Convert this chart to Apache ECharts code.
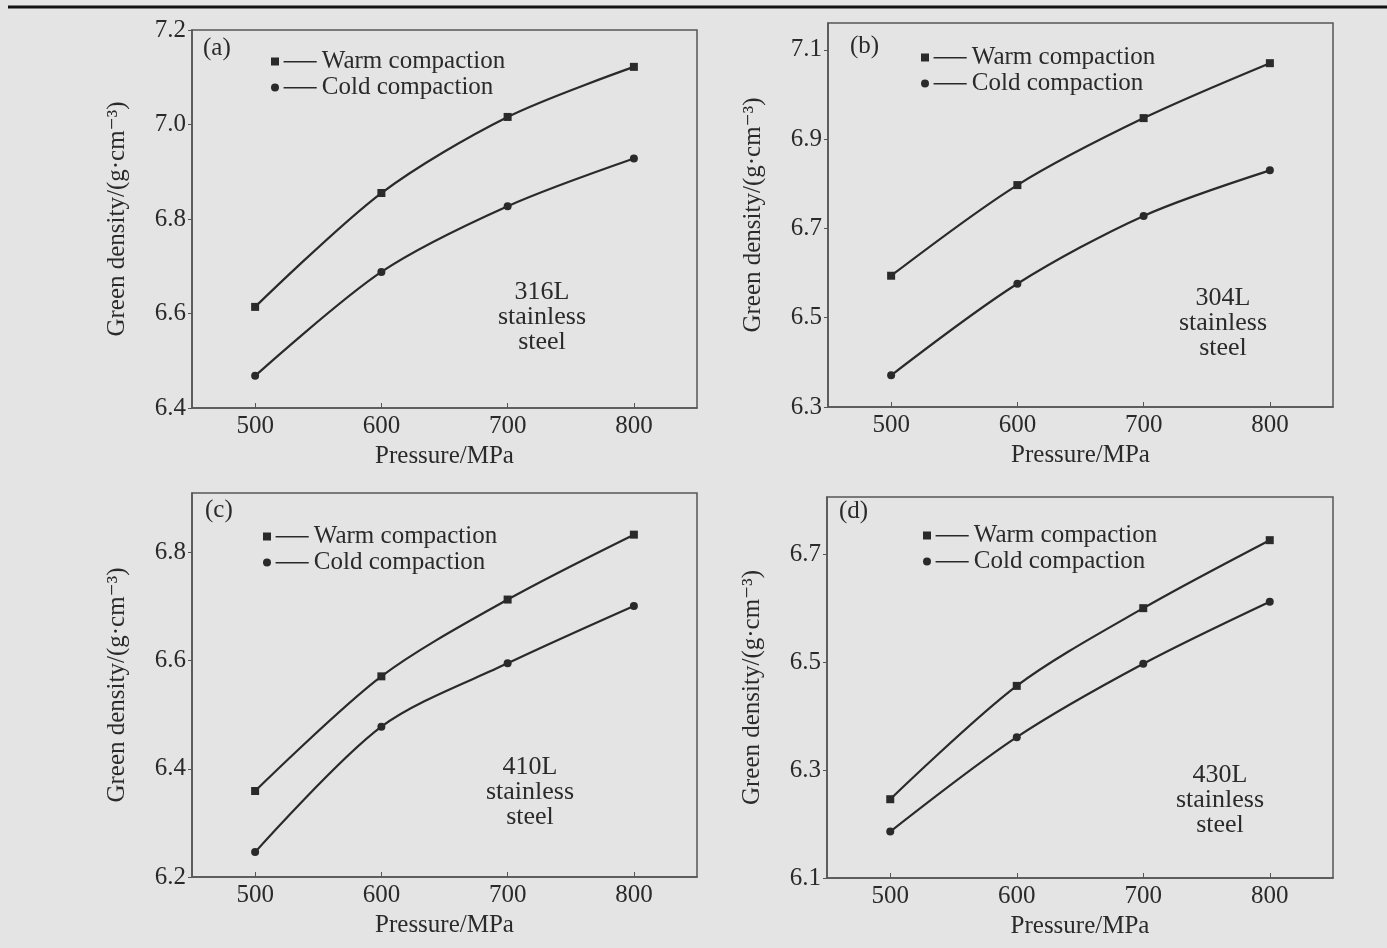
<!DOCTYPE html>
<html>
<head>
<meta charset="utf-8">
<script src="https://cdn.jsdelivr.net/npm/echarts@6/dist/echarts.min.js"></script>
<style>
html, body { margin: 0; padding: 0; background: #e4e4e4; }
#chart { width: 1387px; height: 948px; }
</style>
</head>
<body>
<div id="chart"></div>
<script>
// pressure (MPa)
let pressure = [500, 600, 700, 800]
let pressureTicks = [500, 600, 700, 800]

// green density, g/cm3
let warm316 = [6.614, 6.855, 7.016, 7.122]
let cold316 = [6.468, 6.688, 6.827, 6.928]
let warm304 = [6.594, 6.797, 6.947, 7.07]
let cold304 = [6.371, 6.576, 6.728, 6.83]
let warm410 = [6.359, 6.571, 6.713, 6.833]
let cold410 = [6.246, 6.478, 6.595, 6.701]
let warm430 = [6.246, 6.456, 6.6, 6.726]
let cold430 = [6.186, 6.361, 6.497, 6.612]

let ticks316 = [6.4, 6.6, 6.8, 7.0, 7.2]
let ticks304 = [6.3, 6.5, 6.7, 6.9, 7.1]
let ticks410 = [6.2, 6.4, 6.6, 6.8]
let ticks430 = [6.1, 6.3, 6.5, 6.7]

let panelLabels = ['(a)', '(b)', '(c)', '(d)']
let steelNames = ['316L\nstainless\nsteel', '304L\nstainless\nsteel', '410L\nstainless\nsteel', '430L\nstainless\nsteel']
let seriesNames = ['Warm compaction', 'Cold compaction']

let font = "'Liberation Serif', 'DejaVu Serif', serif"
let ink = '#2a2a2a'
let fs = 25

let panels = [
	{ grid: { left: 192, top: 30, width: 505, height: 378 }, y: [6.4, 7.2], ticks: ticks316, warm: warm316, cold: cold316,
		legend: [271, 49], label: [203, 36], steel: [542, 280] },
	{ grid: { left: 828, top: 23, width: 505, height: 384 }, y: [6.3, 7.16], ticks: ticks304, warm: warm304, cold: cold304,
		legend: [921, 45], label: [850, 34], steel: [1223, 286] },
	{ grid: { left: 192, top: 493, width: 505, height: 384 }, y: [6.2, 6.91], ticks: ticks410, warm: warm410, cold: cold410,
		legend: [263, 524], label: [205, 498], steel: [530, 755] },
	{ grid: { left: 827, top: 497, width: 506, height: 381 }, y: [6.1, 6.806], ticks: ticks430, warm: warm430, cold: cold430,
		legend: [923, 523], label: [839, 499], steel: [1220, 763] }
]

let squareIcon = 'path://M0,0h7v7h-7z M11,3h29v1.3h-29z'
let circleIcon = 'path://M0,3.5a3.5,3.5 0 1,0 7,0a3.5,3.5 0 1,0 -7,0z M11,3h29v1.3h-29z'

let option = {
	backgroundColor: '#e4e4e4',
	animation: false,
	grid: [],
	xAxis: [],
	yAxis: [],
	legend: [],
	title: [],
	series: [],
	graphic: [{
		type: 'line',
		shape: { x1: 8, y1: 7, x2: 1387, y2: 7 },
		style: { stroke: '#111', lineWidth: 3 }
	}]
}

panels.forEach((p, i) => {
	option.grid.push(Object.assign({ show: true, borderColor: '#555', borderWidth: 1.5, backgroundColor: 'transparent' }, p.grid))
	option.xAxis.push({
		gridIndex: i,
		type: 'value',
		min: 450,
		max: 850,
		name: 'Pressure/MPa',
		nameLocation: 'middle',
		nameGap: 36,
		nameTextStyle: { fontFamily: font, fontSize: fs, color: ink },
		axisLine: { lineStyle: { color: '#555', width: 1.5 } },
		axisTick: { inside: true, length: 5, customValues: pressureTicks, lineStyle: { color: '#555' } },
		axisLabel: { customValues: pressureTicks, fontFamily: font, fontSize: fs, color: ink, margin: 6 },
		splitLine: { show: false }
	})
	option.yAxis.push({
		gridIndex: i,
		type: 'value',
		min: p.y[0],
		max: p.y[1],
		name: 'Green density/(g·cm⁻³)',
		nameLocation: 'middle',
		nameRotate: 90,
		nameGap: 62,
		nameTextStyle: { fontFamily: font, fontSize: fs, color: ink },
		axisLine: { show: true, lineStyle: { color: '#555', width: 1.5 } },
		axisTick: { show: true, inside: false, length: 4, customValues: p.ticks, lineStyle: { color: '#555' } },
		axisLabel: { customValues: p.ticks, fontFamily: font, fontSize: fs, color: ink, margin: 6,
			formatter: v => v.toFixed(1) },
		splitLine: { show: false }
	})
	option.legend.push({
		left: p.legend[0],
		top: p.legend[1],
		padding: 0,
		orient: 'vertical',
		itemGap: 1,
		itemWidth: 46,
		itemHeight: 8,
		textStyle: { fontFamily: font, fontSize: fs, color: ink },
		data: [
			{ name: seriesNames[0], icon: squareIcon, itemStyle: { color: ink } },
			{ name: seriesNames[1], icon: circleIcon, itemStyle: { color: ink } }
		]
	})
	option.title.push({
		text: panelLabels[i],
		left: p.label[0],
		top: p.label[1],
		padding: 0,
		textStyle: { fontFamily: font, fontSize: fs, fontWeight: 'normal', color: ink }
	})
	option.title.push({
		text: steelNames[i],
		left: p.steel[0],
		top: p.steel[1],
		padding: 0,
		textAlign: 'center',
		textStyle: { fontFamily: font, fontSize: 26, fontWeight: 'normal', color: ink, lineHeight: 25, align: 'center' }
	})
	let mk = (name, vals, symbol) => ({
		name: name,
		type: 'line',
		xAxisIndex: i,
		yAxisIndex: i,
		data: pressure.map((x, k) => [x, vals[k]]),
		smooth: 0.3,
		symbol: symbol,
		symbolSize: 8,
		lineStyle: { color: ink, width: 2.2 },
		itemStyle: { color: ink },
		z: 3
	})
	option.series.push(mk(seriesNames[0], p.warm, 'rect'))
	option.series.push(mk(seriesNames[1], p.cold, 'circle'))
})

let chart = echarts.init(document.getElementById('chart'))
chart.setOption(option)
</script>
</body>
</html>
